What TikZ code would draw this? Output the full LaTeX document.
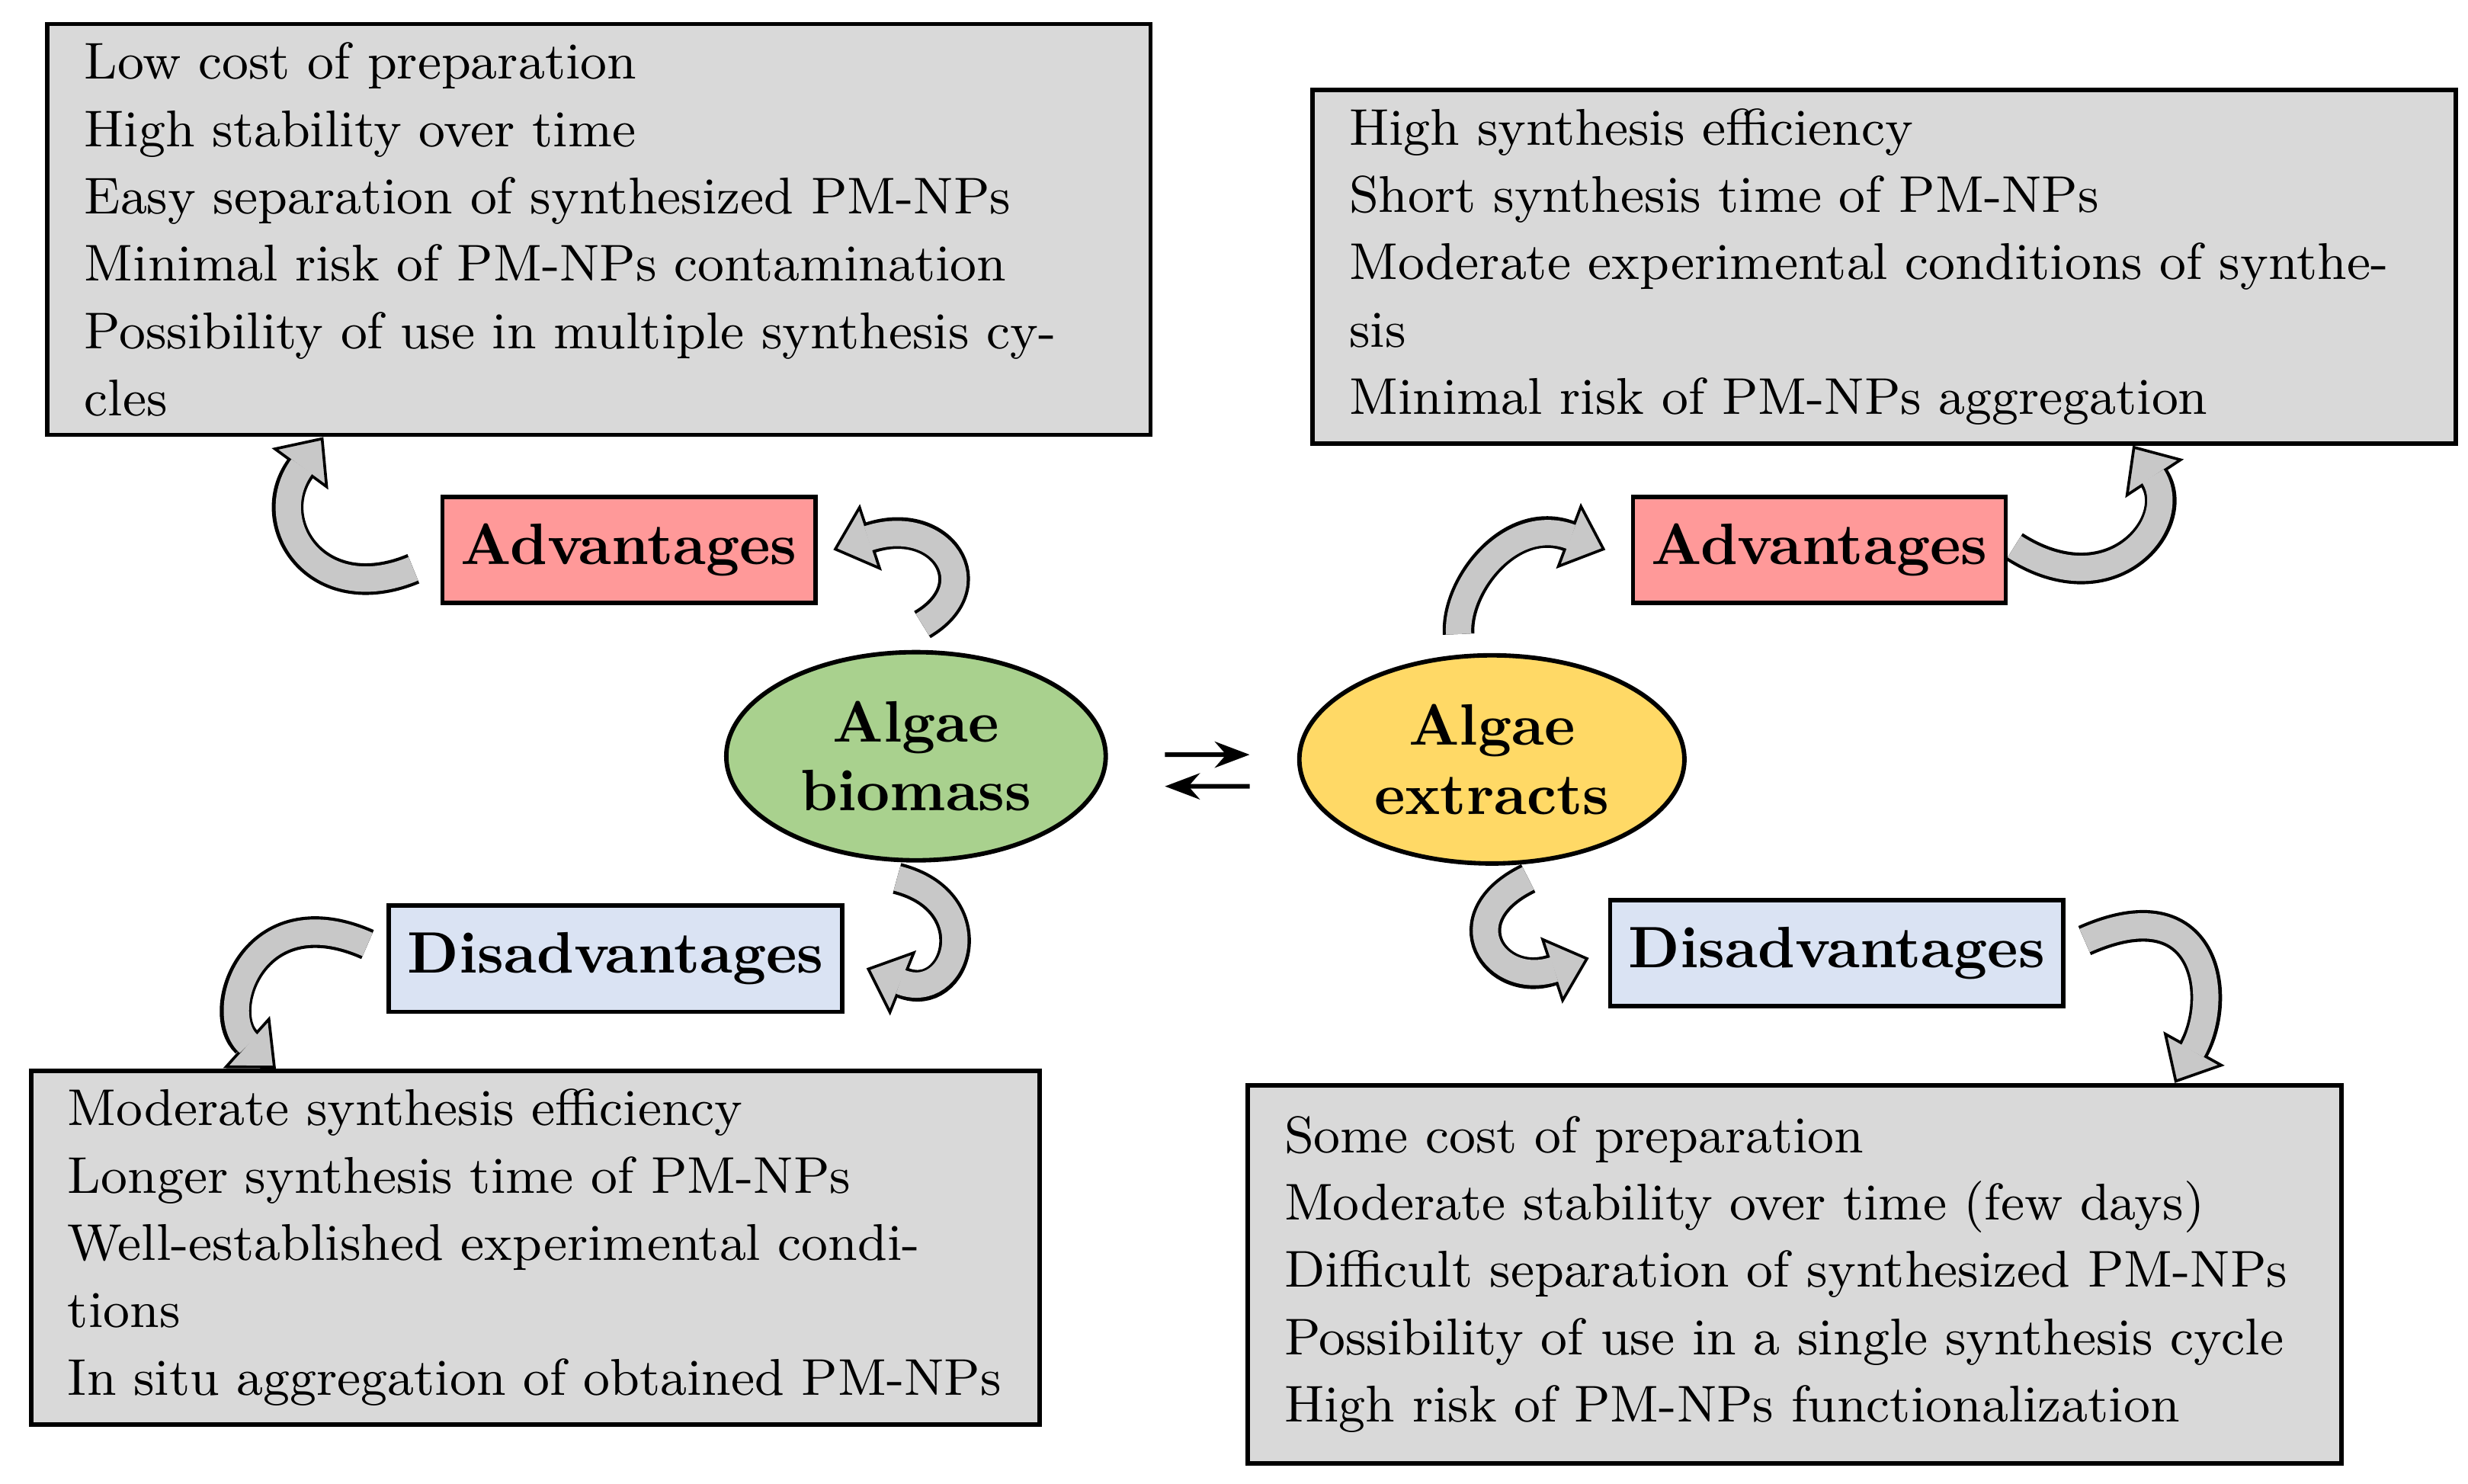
\documentclass[tikz,border=0pt]{standalone}
\usepackage{tikz}
\usetikzlibrary{arrows.meta,positioning,shapes.geometric}
\definecolor{boxgray}{HTML}{D9D9D9}
\definecolor{advred}{HTML}{FF9999}
\definecolor{disblue}{HTML}{DAE3F3}
\definecolor{biogreen}{HTML}{A9D18E}
\definecolor{extyellow}{HTML}{FFD966}
\definecolor{arrowgray}{HTML}{C8C8C8}
\tikzset{
  box/.style={draw, thick, fill=boxgray, align=left, font=\fontsize{9.3}{12.1}\selectfont, inner xsep=0.23cm},
  tag/.style={draw, thick, minimum height=0.67cm, font=\fontsize{10.5}{12}\selectfont\bfseries},
  blob/.style={draw, thick, ellipse, minimum width=2.26cm, minimum height=1cm, align=center, font=\fontsize{10.5}{12.4}\selectfont\bfseries}
}
\newcommand{\bentarrow}[1]{%
  \draw[line width=0.2cm, -{Triangle[length=0.25cm,width=0.44cm,fill=arrowgray,line width=0.5pt]}] #1;
  \draw[line width=0.16cm, arrowgray, shorten >=0.23cm] #1;}

\begin{document}
\begin{tikzpicture}[x=0.01cm, y=-0.01cm]
        \useasboundingbox (0,0) rectangle (1560,938);

        % boxes
        \node[box, minimum width=6.97cm, minimum height=2.4cm, text width=6.5cm] (advbio) at (378.5,145) {Low cost of preparation\\ High stability over time\\ Easy separation of synthesized PM-NPs\\ Minimal risk of PM-NPs contamination\\ Possibility of use in multiple synthesis cycles};
        \node[box, minimum width=7.22cm, minimum height=1.93cm, text width=6.76cm] (advext) at (1191,168.5) {High synthesis efficiency\\ Short synthesis time of PM-NPs\\ Moderate experimental conditions of synthesis\\ Minimal risk of PM-NPs aggregation};
        \node[box, minimum width=6.37cm, minimum height=1.91cm, text width=5.91cm] (disbio) at (338.5,788.5) {Moderate synthesis efficiency\\ Longer synthesis time of PM-NPs\\ Well-established experimental conditions\\ In situ aggregation of obtained PM-NPs};
        \node[box, minimum width=6.91cm, minimum height=2.39cm, text width=6.45cm] (disext) at (1134.5,805.5) {Some cost of preparation\\ Moderate stability over time (few days)\\ Difficult separation of synthesized PM-NPs\\ Possibility of use in a single synthesis cycle\\ High risk of PM-NPs functionalization};

        % labels
        \node[tag, fill=advred, minimum width=2.21cm] (adv1) at (397.5,347.5) {Advantages};
        \node[tag, fill=advred, minimum width=2.2cm] (adv2) at (1150,347.5) {Advantages};
        \node[tag, fill=disblue, minimum width=2.62cm] (dis1) at (389,606) {Disadvantages};
        \node[tag, fill=disblue, minimum width=2.62cm] (dis2) at (1161,602.5) {Disadvantages};

        % algae
        \node[blob, fill=biogreen] (bio) at (579,478) {Algae\\ biomass};
        \node[blob, fill=extyellow] (ext) at (943,480) {Algae\\ extracts};

        \draw[thick, -{Stealth[length=0.22cm]}, shorten <=0.36cm, shorten >=0.3cm] ([yshift=0.01cm]bio.east) -- ([yshift=0.03cm]ext.west);
        \draw[thick, -{Stealth[length=0.22cm]}, shorten <=0.3cm, shorten >=0.36cm] ([yshift=-0.17cm]ext.west) -- ([yshift=-0.19cm]bio.east);

        % bent arrows
        \bentarrow{([xshift=-0.17cm,yshift=-0.12cm]adv1.west) .. controls (200,385) and (165,330) .. ([xshift=-1.74cm]advbio.south)}
        \bentarrow{([xshift=0.04cm,yshift=0.16cm]bio.north) .. controls (625,370) and (595,325) .. ([xshift=0.1cm]adv1.east)}
        \bentarrow{([xshift=-0.21cm,yshift=0.12cm]ext.north) .. controls (920,370) and (955,325) .. ([xshift=-0.16cm]adv2.west)}
        \bentarrow{([xshift=0.04cm,yshift=0.02cm]adv2.east) .. controls (1335,385) and (1380,330) .. ([xshift=1.57cm]advext.south)}
        \bentarrow{([xshift=-0.12cm,yshift=-0.1cm]bio.south) .. controls (625,570) and (605,635) .. ([xshift=0.14cm,yshift=-0.06cm]dis1.east)}
        \bentarrow{([xshift=-0.12cm,yshift=0.09cm]dis1.west) .. controls (160,565) and (135,640) .. ([xshift=-1.64cm]disbio.north)}
        \bentarrow{([xshift=0.23cm,yshift=-0.08cm]ext.south) .. controls (915,580) and (945,625) .. ([xshift=-0.12cm,yshift=-0.03cm]dis2.west)}
        \bentarrow{([xshift=0.12cm,yshift=0.08cm]dis2.east) .. controls (1395,560) and (1405,630) .. ([xshift=2.4cm]disext.north)}
\end{tikzpicture}
\end{document}
